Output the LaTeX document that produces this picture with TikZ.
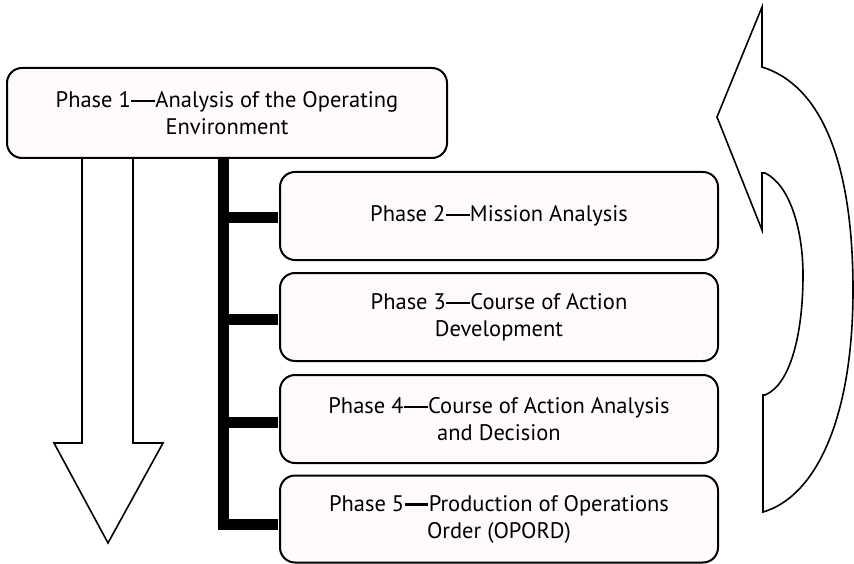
\documentclass[tikz,border=0pt]{standalone}
\usepackage{fontspec}
\setmainfont{PT Sans}
\definecolor{boxfill}{RGB}{255,250,251}
\newcommand\phdash{\kern0.02em\rule[0.24em]{1.05em}{0.1em}\kern0.02em}
\begin{document}
\begin{tikzpicture}[x=1pt,y=-1pt,
  phase/.style={draw=black, line width=2pt, fill=boxfill, rounded corners=15pt,
    align=center, font=\fontsize{22.5}{27}\selectfont, inner sep=0pt},
  outline/.style={draw=black, line width=1.6pt, fill=white, line join=miter},
  bar/.style={draw=black, line width=11pt, line join=miter}]
\useasboundingbox (0,0) rectangle (854,564);
% down arrow
\draw[outline] (82,150) -- (82,443) -- (54,443) -- (108,543) -- (163,443) -- (133,443) -- (133,150);
% boxes
\node[phase, minimum width=440pt, minimum height=90pt] (b1) at (227,113)
  {Phase 1\phdash Analysis of the Operating\\Environment};
\node[phase, minimum width=438pt, minimum height=88pt] (b2) at (499,216)
  {Phase 2\phdash Mission Analysis};
\node[phase, minimum width=438pt, minimum height=88pt] (b3) at (499,317)
  {Phase 3\phdash Course of Action\\Development};
\node[phase, minimum width=438pt, minimum height=88pt] (b4) at (499,419)
  {Phase 4\phdash Course of Action Analysis\\and Decision};
\node[phase, minimum width=438pt, minimum height=87pt] (b5) at (499,519)
  {Phase 5\phdash Production of Operations\\Order (OPORD)};
% connector bar
\coordinate (top) at (223.5,157);
\coordinate (bot) at (b5.west |- 0,524);
\draw[bar] (top) -- (top |- bot) -- ([xshift=-1pt]bot);
\draw[bar] (top |- b2.west) ++(0,2) -- ([shift={(-1,2)}]b2.west);
\draw[bar] (top |- b3.west) ++(0,2) -- ([shift={(-1,2)}]b3.west);
\draw[bar] (top |- b4.west) ++(0,3) -- ([shift={(-1,3)}]b4.west);
% cycle arrow
\draw[outline] (762,7) -- (717,117) -- (762,230) -- (762,173) -- (765,173)
  .. controls (790,185) and (803,230) .. (803,275)
  .. controls (803,335) and (790,385) .. (765,395) -- (763,395) -- (763,512)
  .. controls (815,497) and (853,420) .. (853,290)
  .. controls (853,160) and (820,85) .. (762,67) -- cycle;
\end{tikzpicture}
\end{document}
